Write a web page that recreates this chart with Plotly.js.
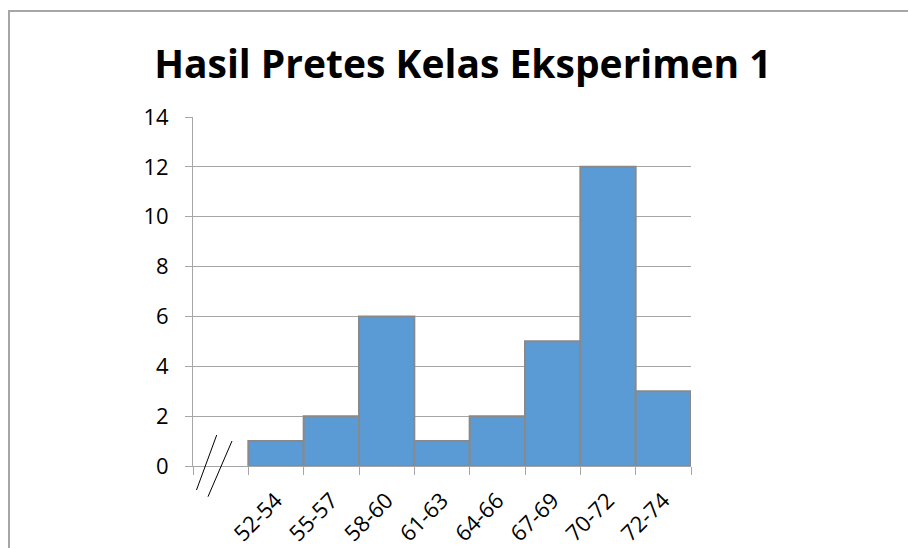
<!DOCTYPE html>
<html>
<head>
<meta charset="utf-8">
<script src="https://cdn.plot.ly/plotly-3.0.1.min.js"></script>
<style>
html,body{margin:0;padding:0;background:#fff;overflow:hidden;}
#chart{position:absolute;left:0;top:0;width:908px;height:548px;}
#frame{position:absolute;left:8px;top:10px;width:1000px;height:1000px;border-left:2px solid #a6a6a6;border-top:2px solid #a6a6a6;pointer-events:none;}
</style>
</head>
<body>
<div id="chart"></div>
<div id="frame"></div>
<script>
const chartTitle = "Hasil Pretes Kelas Eksperimen 1";
const categories = ["52-54", "55-57", "58-60", "61-63", "64-66", "67-69", "70-72", "72-74"];
const frequencies = [1, 2, 6, 1, 2, 5, 12, 3];
const yTicks = [0, 2, 4, 6, 8, 10, 12, 14];

// positions: leave one empty slot before the first class (axis break)
const xPos = categories.map((c, i) => i + 1);

const gridColor = "#a6a6a6";
const font = "'Open Sans', 'Noto Sans', sans-serif";

const trace = {
  type: "bar",
  x: xPos,
  y: frequencies,
  width: 1,
  marker: {color: "#5B9BD5", line: {color: "#898989", width: 2}},
  hoverinfo: "none"
};

const layout = {
  width: 908,
  height: 548,
  margin: {l: 193, r: 217, t: 117, b: 82, pad: 0},
  paper_bgcolor: "#ffffff",
  plot_bgcolor: "#ffffff",
  showlegend: false,
  title: {
    text: "<b>" + chartTitle + "</b>",
    font: {family: font, size: 39, color: "#000"},
    xref: "paper", x: 0.542, xanchor: "center",
    yref: "container", y: 1 - 64/548, yanchor: "middle"
  },
  xaxis: {
    type: "linear",
    range: [-0.5, 8.5],
    tickvals: xPos,
    ticktext: categories,
    tickangle: -45,
    ticks: "",
    ticklabelstandoff: 12,
    tickfont: {family: font, size: 22, color: "#000"},
    showgrid: false,
    zeroline: false,
    showline: true,
    linecolor: gridColor,
    linewidth: 1,
    minor: {
      tick0: 0.5, dtick: 1,
      ticks: "outside", ticklen: 8, tickwidth: 1, tickcolor: gridColor,
      showgrid: false
    },
    fixedrange: true
  },
  yaxis: {
    range: [0, 14],
    tickvals: yTicks,
    ticktext: yTicks.map(String),
    ticks: "outside",
    ticklen: 7,
    tickwidth: 1,
    tickcolor: gridColor,
    tickfont: {family: font, size: 22, color: "#000"},
    ticklabelstandoff: 12,
    showgrid: true,
    gridcolor: gridColor,
    gridwidth: 1,
    zeroline: false,
    showline: true,
    linecolor: gridColor,
    linewidth: 1,
    fixedrange: true
  },
  shapes: [
    {type: "line", xref: "paper", yref: "paper", x0: 0.0476, y0: 0.0888, x1: 0.0070, y1: -0.0688, line: {color: "#000", width: 1}},
    {type: "line", xref: "paper", yref: "paper", x0: 0.0783, y0: 0.0716, x1: 0.0301, y1: -0.0880, line: {color: "#000", width: 1}}
  ]
};

Plotly.newPlot("chart", [trace], layout, {staticPlot: true, displayModeBar: false});
</script>
</body>
</html>
